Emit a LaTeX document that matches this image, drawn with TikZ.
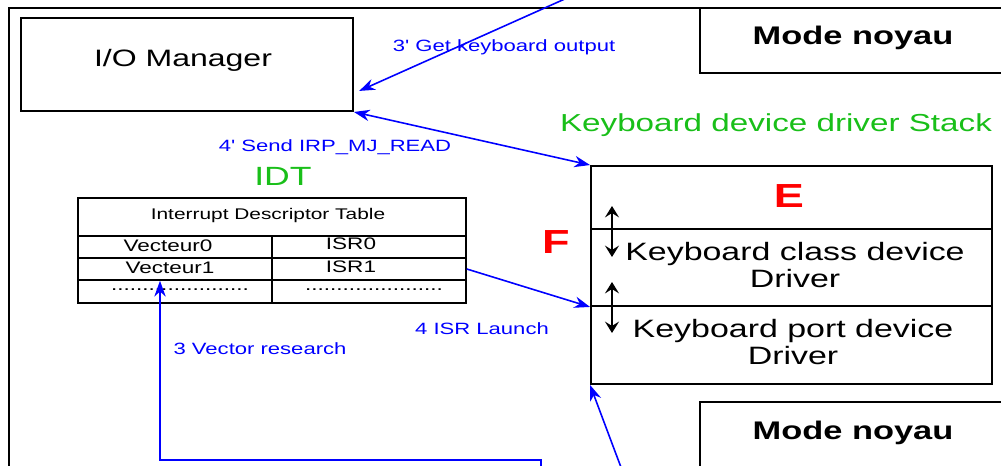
\documentclass[tikz,border=0pt]{standalone}
\usepackage{fontspec}
\setmainfont{Liberation Sans}
\usetikzlibrary{arrows.meta}
\definecolor{stackgreen}{rgb}{0.1,0.75,0.1}

\tikzset{
  box/.style={draw,line width=1.1pt,inner sep=0pt},
  cellbox/.style={draw,line width=0.9pt,inner sep=0pt},
  wide/.style={xscale=1.35,inner sep=0pt},
  bigtxt/.style={wide,font=\fontsize{13.5}{15}\selectfont},
  modetxt/.style={wide,font=\bfseries\fontsize{14.5}{16}\selectfont},
  drvtxt/.style={wide,align=center,font=\fontsize{14.3}{15.4}\selectfont},
  lettertxt/.style={wide,red,font=\bfseries\fontsize{19}{21}\selectfont},
  greentxt/.style={wide,stackgreen,font=\fontsize{14}{16}\selectfont},
  celltxt/.style={wide,font=\fontsize{9.5}{11}\selectfont},
  lbl/.style={wide,blue,font=\fontsize{9.3}{11}\selectfont},
  flow/.style={blue,line width=0.9pt,-{Stealth[length=9pt,width=6.5pt]}},
  dbl/.style={black,line width=0.9pt,{Stealth[length=6.5pt,width=8pt,inset=2.5pt]}-{Stealth[length=6.5pt,width=8pt,inset=2.5pt]}}
}

\begin{document}
\begin{tikzpicture}[x=0.02cm,y=-0.02cm]
  \useasboundingbox (0,0) rectangle (1001,466);
  \clip (0,0) rectangle (1001,466);
  % outer frame
  \draw[line width=1.1pt] (9,480) -- (9,8) -- (1010,8);

  % I/O manager and kernel mode boxes
  \node[box,minimum width=6.64cm,minimum height=1.86cm] (io) at (187,64.5) {};
  \node[bigtxt] (iot) at (183,60) {I/O Manager};
  \node[box,minimum width=6.4cm,minimum height=1.3cm] (mn1) at (860,40.5) {};
  \node[modetxt] (mn1t) at (853,38) {Mode noyau};
  \node[box,minimum width=6.4cm,minimum height=1.6cm] (mn2) at (860,442) {};
  \node[modetxt] (mn2t) at (853,433) {Mode noyau};

  % driver stack
  \node[greentxt] (stackt) at (776,125) {Keyboard device driver Stack};
  \node[box,minimum width=8.02cm,minimum height=1.26cm] (stackE) at (791.5,197.5) {};
  \node[box,minimum width=8.02cm,minimum height=1.54cm] (stackC) at (791.5,267.5) {};
  \node[box,minimum width=8.02cm,minimum height=1.56cm] (stackP) at (791.5,345) {};
  \node[lettertxt] (lE) at (789,196) {E};
  \node[lettertxt] (lF) at (556,242) {F};
  \node[drvtxt] (kbc) at (795,265) {Keyboard class device\\Driver};
  \node[drvtxt] (kbp) at (793,342) {Keyboard port device\\Driver};
  \coordinate (a1) at (612,206);
  \coordinate (a2) at (612,257);
  \coordinate (a3) at (612,282);
  \coordinate (a4) at (612,333);
  \draw[dbl] (a1) -- (a2);
  \draw[dbl] (a3) -- (a4);

  % IDT
  \node[greentxt,font=\fontsize{15}{17}\selectfont] (idt) at (283,176) {IDT};
  \node[cellbox,minimum width=7.76cm,minimum height=0.76cm] (head) at (272,217) {};
  \node[cellbox,minimum width=3.88cm,minimum height=0.44cm] (v0) at (175,247) {};
  \node[cellbox,minimum width=3.88cm,minimum height=0.44cm] (i0) at (369,247) {};
  \node[cellbox,minimum width=3.88cm,minimum height=0.44cm] (v1) at (175,269) {};
  \node[cellbox,minimum width=3.88cm,minimum height=0.44cm] (i1) at (369,269) {};
  \node[cellbox,minimum width=3.88cm,minimum height=0.46cm] (d0) at (175,291.5) {};
  \node[cellbox,minimum width=3.88cm,minimum height=0.46cm] (d1) at (369,291.5) {};
  \node[celltxt,font=\fontsize{8.8}{10}\selectfont] (headt) at (268,216) {Interrupt Descriptor Table};
  \node[celltxt] (v0t) at (168,246) {Vecteur0};
  \node[celltxt] (i0t) at (351,244) {ISR0};
  \node[celltxt] (v1t) at (170,268) {Vecteur1};
  \node[celltxt] (i1t) at (351,267) {ISR1};
  \node[celltxt] (d0t) at (180,290) {......................};
  \node[celltxt] (d1t) at (374,290) {......................};

  % flows
  \coordinate (kin) at (567,-2);
  \coordinate (vr) at (541,470);
  \coordinate (vrA) at (160,460);
  \coordinate (kb) at (622,470);
  \draw[flow] (kin) -- ([xshift=3pt]io.-9.7);
  \draw[flow,{Stealth[length=9pt,width=6.5pt]}-{Stealth[length=9pt,width=6.5pt]}] (io.south east) -- (stackE.north west);
  \draw[flow] (i1.east) -- (stackC.south west);
  \draw[flow] (vr) |- (vrA) -- (vrA |- v1.south);
  \draw[flow] (kb) -- (stackP.south west);

  % labels
  \node[lbl] (l3p) at (504,47) {3\textquotesingle{} Get keyboard output};
  \node[lbl] (l4p) at (335,147) {4\textquotesingle{} Send IRP\_MJ\_READ};
  \node[lbl] (l4) at (482,329) {4 ISR Launch};
  \node[lbl] (l3) at (260,349) {3 Vector research};
\end{tikzpicture}
\end{document}
